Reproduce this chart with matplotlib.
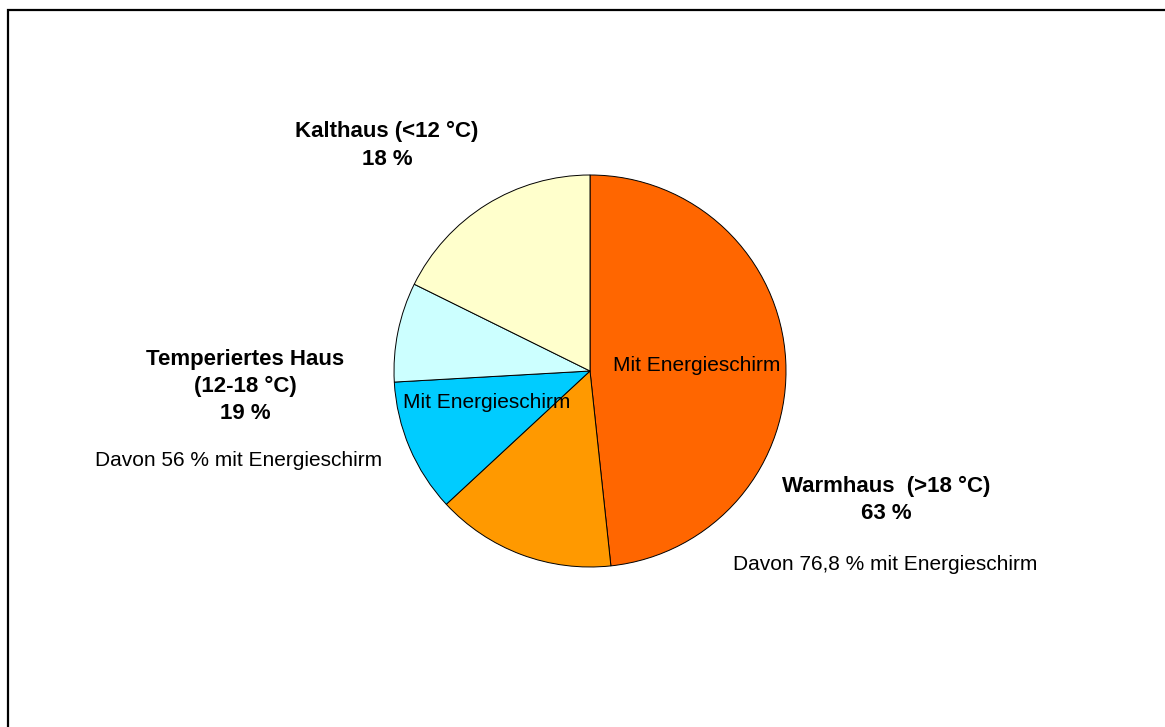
import matplotlib.pyplot as plt
from matplotlib.patches import Rectangle

plt.rcParams['font.family'] = ['Liberation Sans', 'DejaVu Sans']

# slice shares in percent, clockwise from 12 o'clock
slice_names = ['Warmhaus mit Schirm', 'Warmhaus ohne Schirm',
               'Temperiert mit Schirm', 'Temperiert ohne Schirm', 'Kalthaus']
slice_values = [48.3, 14.8, 11.0, 8.2, 17.7]
slice_colors = ['#FF6600', '#FF9900', '#00CCFF', '#CCFFFF', '#FFFFCC']

W, H = 1165, 727
fig = plt.figure(figsize=(W / 100, H / 100), dpi=100)
ax = fig.add_axes([0, 0, 1, 1])
ax.axis('off')

# outer frame (runs off the right and bottom edge)
ax.add_patch(Rectangle((8, -20), W + 20, H - 10 + 20, fill=False,
                       edgecolor='k', linewidth=1.6))

ax.pie(slice_values, colors=slice_colors, startangle=90, counterclock=False,
       center=(590, H - 371), radius=196,
       wedgeprops=dict(edgecolor='k', linewidth=0.7))
ax.set_xlim(0, W)
ax.set_ylim(0, H)
ax.set_aspect('equal')

def txt(x, y, s, bold=False):
    # y is the baseline in pixels from the top
    ax.text(x, H - y, s, ha='center', va='baseline',
            fontsize=16 if bold else 15,
            fontweight='bold' if bold else 'normal')

txt(387, 137, 'Kalthaus (<12 °C)', True)
txt(387, 165, '18 %', True)

txt(245, 365, 'Temperiertes Haus', True)
txt(245, 392, '(12-18 °C)', True)
txt(245, 419, '19 %', True)
txt(238.5, 466, 'Davon 56 % mit Energieschirm')

txt(886, 492, 'Warmhaus  (>18 °C)', True)
txt(886, 519, '63 %', True)
txt(885.5, 570, 'Davon 76,8 % mit Energieschirm')

txt(696.5, 371, 'Mit Energieschirm')
txt(486.5, 408, 'Mit Energieschirm')

fig.savefig('out.png', dpi=100)
